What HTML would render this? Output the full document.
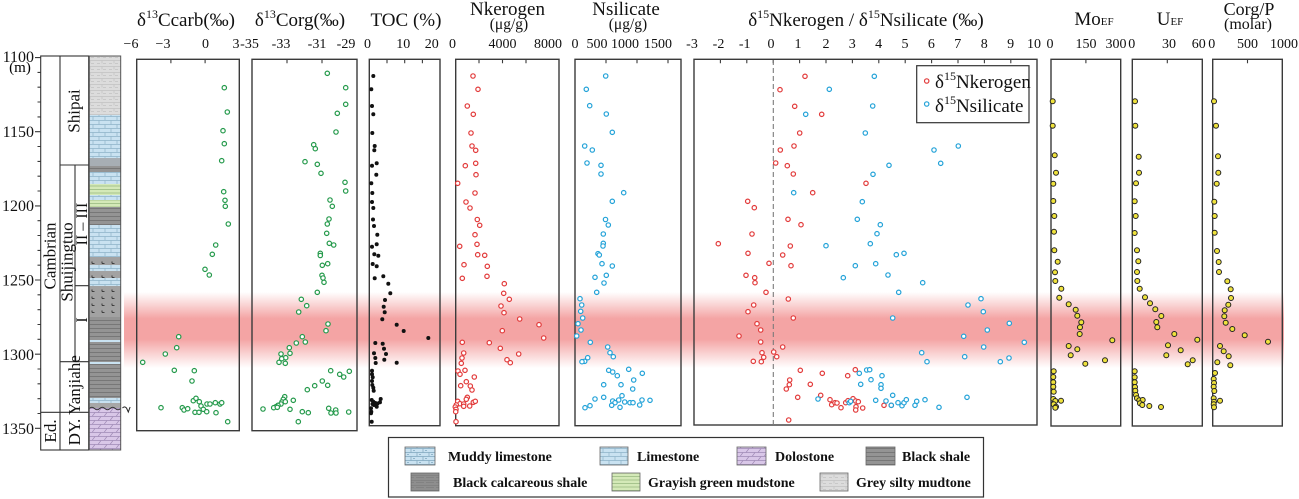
<!DOCTYPE html>
<html><head><meta charset="utf-8">
<style>
html,body{margin:0;padding:0;background:#fff;}
svg{display:block;font-family:"Liberation Serif","DejaVu Serif",serif;}
.fr{fill:none;stroke:#3a3a3a;stroke-width:1.4;}
.tk{stroke:#3a3a3a;stroke-width:1.1;}
.tl{font-size:14px;text-anchor:middle;fill:#111;}
.g{fill:#fff;stroke:#23994a;stroke-width:1.2;}
.r{fill:#fff;stroke:#e23a3a;stroke-width:1.2;}
.b{fill:#fff;stroke:#22a2d8;stroke-width:1.2;}
.k{fill:#111;}
.y{fill:#efe23c;stroke:#222;stroke-width:1;}
.lg{font-size:14px;font-weight:bold;fill:#111;}
.sw{stroke:#666;stroke-width:0.8;}
</style></head>
<body>
<svg width="1299" height="499" viewBox="0 0 1299 499" xmlns="http://www.w3.org/2000/svg">
<defs>
<linearGradient id="band" x1="0" y1="0" x2="0" y2="1">
<stop offset="0" stop-color="#f4a6a6" stop-opacity="0"/>
<stop offset="0.35" stop-color="#f4a4a4" stop-opacity="1"/>
<stop offset="0.62" stop-color="#f4a4a4" stop-opacity="1"/>
<stop offset="1" stop-color="#f4a6a6" stop-opacity="0"/>
</linearGradient>
<pattern id="pLime" patternUnits="userSpaceOnUse" width="12" height="8">
<rect width="12" height="8" fill="#c9e2f1"/>
<path d="M0 0.5H12M0 4.5H12M3 0.5V4.5M9 4.5V8" stroke="#8db2c8" stroke-width="0.7" fill="none"/>
</pattern>
<pattern id="pMud" patternUnits="userSpaceOnUse" width="12" height="8">
<rect width="12" height="8" fill="#c9e2f1"/>
<path d="M0 0.5H12M0 4.5H12M3 0.5V4.5M9 4.5V8M5 2.5H7M11 6.5H12M0 6.5H1" stroke="#7fa6bd" stroke-width="0.7" fill="none"/>
</pattern>
<pattern id="pShale" patternUnits="userSpaceOnUse" width="10" height="4">
<rect width="10" height="4" fill="#949494"/>
<path d="M0 0.5H10" stroke="#707070" stroke-width="0.8"/>
</pattern>
<pattern id="pCalc" patternUnits="userSpaceOnUse" width="10" height="7">
<rect width="10" height="7" fill="#a2a2a2"/>
<path d="M2 4.5h2.5M2 4.5v-2" stroke="#222" stroke-width="0.8" fill="none"/>
</pattern>
<pattern id="pCalcL" patternUnits="userSpaceOnUse" width="10" height="5">
<rect width="10" height="5" fill="#8e8e8e"/>
<path d="M0 0.5H10M0 2.5H4M6 2.5H10" stroke="#777" stroke-width="0.6"/>
</pattern>
<pattern id="pGreen" patternUnits="userSpaceOnUse" width="10" height="3.5">
<rect width="10" height="3.5" fill="#d4e9b8"/>
<path d="M0 0.5H10" stroke="#93b57a" stroke-width="0.7"/>
</pattern>
<pattern id="pSilt" patternUnits="userSpaceOnUse" width="12" height="6">
<rect width="12" height="6" fill="#dcdcdc"/>
<path d="M0 0.5H12M1 3.5H4M7 3.5H10M6 0.5V3.5" stroke="#c2c2c2" stroke-width="0.7" fill="none"/>
</pattern>
<pattern id="pDolo" patternUnits="userSpaceOnUse" width="12" height="8">
<rect width="12" height="8" fill="#d9c7e8"/>
<path d="M0 0.5H12M0 4.5H12M2 4.5L5 0.5M8 8.5L11 4.5" stroke="#9f8ab6" stroke-width="0.7" fill="none"/>
</pattern>
</defs>

<!-- red band -->
<rect x="124" y="292" width="1160" height="76" fill="url(#band)"/>

<!-- ===== depth axis & strat column ===== -->
<g font-size="16" text-anchor="end" fill="#111">
<text x="34" y="62">1100</text>
<text x="34" y="137">1150</text>
<text x="34" y="211">1200</text>
<text x="34" y="285.5">1250</text>
<text x="34" y="360">1300</text>
<text x="34" y="434">1350</text>
</g>
<text x="20" y="72" font-size="15" text-anchor="middle">(m)</text>
<g class="tk">
<path d="M35 57.6H40.7M37.5 72.4H40.7M37.5 87.2H40.7M37.5 102H40.7M37.5 116.9H40.7M35 131.7H40.7M37.5 146.5H40.7M37.5 161.4H40.7M37.5 176.2H40.7M37.5 191H40.7M35 205.9H40.7M37.5 220.7H40.7M37.5 235.5H40.7M37.5 250.4H40.7M37.5 265.2H40.7M35 280H40.7M37.5 294.8H40.7M37.5 309.7H40.7M37.5 324.5H40.7M37.5 339.3H40.7M35 354.2H40.7M37.5 369H40.7M37.5 383.8H40.7M37.5 398.7H40.7M37.5 413.5H40.7M35 428.3H40.7"/>
</g>
<!-- column boxes -->
<g fill="none" stroke="#333" stroke-width="1.1">
<rect x="40.7" y="56" width="48" height="394"/>
<path d="M60 56V450M75 165V361.7M60 165H88.7M75 285.7H88.7M60 361.7H88.7M40.7 412.3H88.7"/>
</g>
<g font-size="17" text-anchor="middle" fill="#111">
<text transform="translate(50,256) rotate(-90)" dominant-baseline="central">Cambrian</text>
<text transform="translate(50.5,431) rotate(-90)" dominant-baseline="central">Ed.</text>
<text transform="translate(74,111) rotate(-90)" dominant-baseline="central">Shipai</text>
<text transform="translate(67,262) rotate(-90)" dominant-baseline="central">Shuijingtuo</text>
<text transform="translate(82.5,224) rotate(-90)" dominant-baseline="central" font-size="16">II – III</text>
<text transform="translate(82.5,320) rotate(-90)" dominant-baseline="central" font-size="16">I</text>
<text transform="translate(74.5,385) rotate(-90)" dominant-baseline="central">Yanjiahe</text>
<text transform="translate(74.5,432) rotate(-90)" dominant-baseline="central">DY.</text>
</g>
<!-- lithology -->
<g>
<rect x="89.3" y="56" width="31.4" height="59" fill="url(#pSilt)"/>
<rect x="89.3" y="115" width="31.4" height="43" fill="url(#pLime)"/>
<rect x="89.3" y="158" width="31.4" height="8" fill="#a7aeb4"/>
<rect x="89.3" y="166" width="31.4" height="6" fill="url(#pShale)"/>
<rect x="89.3" y="172" width="31.4" height="12" fill="url(#pLime)"/>
<rect x="89.3" y="184" width="31.4" height="11" fill="url(#pGreen)"/>
<rect x="89.3" y="195" width="31.4" height="5" fill="url(#pLime)"/>
<rect x="89.3" y="200" width="31.4" height="7" fill="url(#pGreen)"/>
<rect x="89.3" y="207" width="31.4" height="18" fill="url(#pShale)"/>
<rect x="89.3" y="225" width="31.4" height="32" fill="url(#pLime)"/>
<rect x="89.3" y="257" width="31.4" height="8" fill="url(#pCalc)"/>
<rect x="89.3" y="265" width="31.4" height="6" fill="url(#pLime)"/>
<rect x="89.3" y="271" width="31.4" height="7" fill="url(#pCalc)"/>
<rect x="89.3" y="278" width="31.4" height="8" fill="url(#pLime)"/>
<rect x="89.3" y="286" width="31.4" height="31" fill="url(#pCalc)"/>
<rect x="89.3" y="317" width="31.4" height="23" fill="url(#pShale)"/>
<rect x="89.3" y="340" width="31.4" height="2" fill="#c9e2f1"/>
<rect x="89.3" y="342" width="31.4" height="20" fill="url(#pShale)"/>
<rect x="89.3" y="362" width="31.4" height="2" fill="#c9e2f1"/>
<rect x="89.3" y="364" width="31.4" height="34" fill="url(#pShale)"/>
<rect x="89.3" y="398" width="31.4" height="5" fill="url(#pLime)"/>
<rect x="89.3" y="403" width="31.4" height="5" fill="#a7a7a7"/>
<rect x="89.3" y="408" width="31.4" height="42" fill="url(#pDolo)"/>
<path d="M89.3 408.5q2.6-2.5 5.2 0t5.2 0t5.2 0t5.2 0t5.2 0t5.4 0" fill="none" stroke="#333" stroke-width="0.9"/>
<rect x="89.3" y="56" width="31.4" height="394" fill="none" stroke="#555" stroke-width="1"/>
<path d="M122.5 408q2-2.2 4 0M126.5 408l1.8 4l1.8-5" fill="none" stroke="#222" stroke-width="1"/>
</g>

<!-- ===== titles ===== -->
<g fill="#111">
<text x="186" y="26" font-size="19" text-anchor="middle">δ<tspan font-size="12" dy="-8">13</tspan><tspan dy="8">Ccarb(‰)</tspan></text>
<text x="300" y="26" font-size="19" text-anchor="middle">δ<tspan font-size="12" dy="-8">13</tspan><tspan dy="8">Corg(‰)</tspan></text>
<text x="406" y="26" font-size="19" text-anchor="middle">TOC (%)</text>
<text x="507.5" y="15" font-size="19" text-anchor="middle">Nkerogen</text>
<text x="509" y="29" font-size="15.5" text-anchor="middle">(μg/g)</text>
<text x="626" y="15" font-size="19" text-anchor="middle">Nsilicate</text>
<text x="628" y="29" font-size="15.5" text-anchor="middle">(μg/g)</text>
<text x="866" y="26" font-size="19" text-anchor="middle">δ<tspan font-size="12" dy="-8">15</tspan><tspan dy="8">Nkerogen / δ</tspan><tspan font-size="12" dy="-8">15</tspan><tspan dy="8">Nsilicate (‰)</tspan></text>
<text x="1094" y="25" font-size="19" text-anchor="middle">Mo<tspan font-size="11">EF</tspan></text>
<text x="1170" y="25" font-size="19" text-anchor="middle">U<tspan font-size="11">EF</tspan></text>
<text x="1249" y="15" font-size="18" text-anchor="middle">Corg/P</text>
<text x="1248" y="29" font-size="16" text-anchor="middle">(molar)</text>
</g>

<!-- ===== tick labels ===== -->
<g class="tl">
<text x="131" y="48">−6</text><text x="163" y="48">−3</text><text x="205.5" y="48">0</text><text x="236" y="48">3</text>
<text x="249.5" y="48">-35</text><text x="281" y="48">-33</text><text x="317" y="48">-31</text><text x="346" y="48">-29</text>
<text x="367.5" y="48">0</text><text x="403.3" y="48">10</text><text x="431.7" y="48">20</text>
<text x="452.5" y="48">0</text><text x="502.5" y="48">4000</text><text x="548" y="48">8000</text>
<text x="575" y="48">0</text><text x="597" y="48">500</text><text x="625" y="48">1000</text><text x="658" y="48">1500</text>
<text x="692" y="48">-3</text><text x="718.5" y="48">-2</text><text x="744.7" y="48">-1</text><text x="771" y="48">0</text>
<text x="798" y="48">1</text><text x="826" y="48">2</text><text x="852.2" y="48">3</text><text x="878.6" y="48">4</text>
<text x="905" y="48">5</text><text x="931.4" y="48">6</text><text x="957.8" y="48">7</text><text x="984.2" y="48">8</text>
<text x="1010.6" y="48">9</text><text x="1034" y="48">10</text>
<text x="1050" y="48">0</text><text x="1086" y="48">150</text><text x="1116" y="48">300</text>
<text x="1131.7" y="48">0</text><text x="1169" y="48">30</text><text x="1198.8" y="48">60</text>
<text x="1211.7" y="48">0</text><text x="1247.5" y="48">500</text><text x="1284" y="48">1000</text>
</g>

<!-- ===== panel frames ===== -->
<g class="fr">
<rect x="136.7" y="59.3" width="102.6" height="371.4"/>
<rect x="252" y="59.3" width="105" height="371.4"/>
<rect x="369.3" y="59.3" width="70.7" height="366.4"/>
<rect x="455.7" y="59.3" width="103.3" height="366.4"/>
<rect x="575" y="59.3" width="106" height="366.4"/>
<rect x="694" y="59.3" width="343" height="365.7"/>
<rect x="1051" y="59.3" width="69.7" height="366.7"/>
<rect x="1132.3" y="59.3" width="70" height="366.7"/>
<rect x="1212.7" y="59.3" width="69.6" height="366.7"/>
</g>
<g class="tk">
<path d="M170.9 59.3v4M205.1 59.3v4M287 59.3v4M322 59.3v4M387 59.3v4M404.7 59.3v4M422.4 59.3v4M479 59.3v4M502.5 59.3v4M526 59.3v4M606 59.3v4M637 59.3v4M668 59.3v4
M720.4 59.3v4M746.8 59.3v4M773.2 59.3v4M799.6 59.3v4M826 59.3v4M852.4 59.3v4M878.8 59.3v4M905.2 59.3v4M931.6 59.3v4M958 59.3v4M984.4 59.3v4M1010.8 59.3v4
M1085.9 59.3v4M1167.3 59.3v4M1247.5 59.3v4"/>
</g>
<path d="M773.3 60V425" stroke="#7a7a7a" stroke-width="1.1" stroke-dasharray="5,3"/>

<!-- ===== δ13Ccarb ===== -->
<g class="g">
<circle cx="224.3" cy="87.7" r="2.2"/><circle cx="227.3" cy="112" r="2.2"/><circle cx="223" cy="130.7" r="2.2"/><circle cx="224.3" cy="143.7" r="2.2"/><circle cx="221.7" cy="160.7" r="2.2"/><circle cx="223.7" cy="191.7" r="2.2"/><circle cx="225" cy="200.3" r="2.2"/><circle cx="225.3" cy="206.3" r="2.2"/><circle cx="228.3" cy="224" r="2.2"/><circle cx="215.7" cy="245" r="2.2"/><circle cx="212.3" cy="254.3" r="2.2"/><circle cx="205" cy="269.3" r="2.2"/><circle cx="209.3" cy="275" r="2.2"/><circle cx="178.7" cy="336.7" r="2.2"/><circle cx="176.7" cy="347.7" r="2.2"/><circle cx="165.3" cy="354" r="2.2"/><circle cx="142.7" cy="362.3" r="2.2"/><circle cx="174.3" cy="370.3" r="2.2"/><circle cx="194.3" cy="370.7" r="2.2"/><circle cx="192" cy="381" r="2.2"/><circle cx="161" cy="407.7" r="2.2"/><circle cx="182.3" cy="407.7" r="2.2"/><circle cx="184" cy="410" r="2.2"/><circle cx="187.7" cy="408.7" r="2.2"/><circle cx="193.3" cy="400.7" r="2.2"/><circle cx="196" cy="398.3" r="2.2"/><circle cx="199.3" cy="401.7" r="2.2"/><circle cx="201" cy="406" r="2.2"/><circle cx="203.3" cy="409.3" r="2.2"/><circle cx="195" cy="412.3" r="2.2"/><circle cx="199" cy="412.3" r="2.2"/><circle cx="207" cy="404" r="2.2"/><circle cx="210" cy="404" r="2.2"/><circle cx="206.7" cy="411.7" r="2.2"/><circle cx="215.3" cy="402.7" r="2.2"/><circle cx="220" cy="404" r="2.2"/><circle cx="221.7" cy="402.7" r="2.2"/><circle cx="216" cy="412.7" r="2.2"/><circle cx="227.7" cy="421.7" r="2.2"/>
</g>
<!-- ===== δ13Corg ===== -->
<g class="g">
<circle cx="327.3" cy="73.3" r="2.2"/><circle cx="345.7" cy="87.7" r="2.2"/><circle cx="345.7" cy="104.3" r="2.2"/><circle cx="337.3" cy="113.3" r="2.2"/><circle cx="336" cy="132" r="2.2"/><circle cx="313.7" cy="144.7" r="2.2"/><circle cx="315.3" cy="148.7" r="2.2"/><circle cx="305" cy="161.7" r="2.2"/><circle cx="317.3" cy="164.3" r="2.2"/><circle cx="321" cy="173.3" r="2.2"/><circle cx="345" cy="182.3" r="2.2"/><circle cx="345.7" cy="191" r="2.2"/><circle cx="330" cy="200" r="2.2"/><circle cx="332.3" cy="206.3" r="2.2"/><circle cx="329" cy="219" r="2.2"/><circle cx="327.3" cy="224" r="2.2"/><circle cx="326.7" cy="233.3" r="2.2"/><circle cx="329.3" cy="243.3" r="2.2"/><circle cx="333.7" cy="245" r="2.2"/><circle cx="320.3" cy="253.3" r="2.2"/><circle cx="320.3" cy="255.5" r="2.2"/><circle cx="322.3" cy="265.3" r="2.2"/><circle cx="327.7" cy="263.7" r="2.2"/><circle cx="322" cy="275.3" r="2.2"/><circle cx="323" cy="278" r="2.2"/><circle cx="324" cy="282.3" r="2.2"/><circle cx="317.3" cy="292.3" r="2.2"/><circle cx="301.3" cy="299.3" r="2.2"/><circle cx="306.7" cy="305.7" r="2.2"/><circle cx="298.7" cy="312" r="2.2"/><circle cx="328" cy="324" r="2.2"/><circle cx="326" cy="330.7" r="2.2"/><circle cx="302.3" cy="336.7" r="2.2"/><circle cx="305.3" cy="342" r="2.2"/><circle cx="296.3" cy="343" r="2.2"/><circle cx="289.3" cy="347.7" r="2.2"/><circle cx="290" cy="353.3" r="2.2"/><circle cx="281" cy="354" r="2.2"/><circle cx="285.7" cy="357.7" r="2.2"/><circle cx="281.7" cy="358.7" r="2.2"/><circle cx="279" cy="362.3" r="2.2"/><circle cx="285.3" cy="363.3" r="2.2"/><circle cx="330.7" cy="370.7" r="2.2"/><circle cx="339.7" cy="374.3" r="2.2"/><circle cx="343.7" cy="377" r="2.2"/><circle cx="349.3" cy="371.3" r="2.2"/><circle cx="322.3" cy="381" r="2.2"/><circle cx="327.7" cy="385.3" r="2.2"/><circle cx="314.7" cy="385.7" r="2.2"/><circle cx="307.3" cy="389.7" r="2.2"/><circle cx="293.3" cy="400.3" r="2.2"/><circle cx="284.7" cy="396.7" r="2.2"/><circle cx="283.3" cy="399.3" r="2.2"/><circle cx="282" cy="402" r="2.2"/><circle cx="285.3" cy="401.7" r="2.2"/><circle cx="281" cy="404" r="2.2"/><circle cx="278" cy="405.3" r="2.2"/><circle cx="276" cy="406.7" r="2.2"/><circle cx="273.7" cy="407.7" r="2.2"/><circle cx="277.3" cy="407.3" r="2.2"/><circle cx="263" cy="409" r="2.2"/><circle cx="290" cy="409.3" r="2.2"/><circle cx="302.3" cy="411.7" r="2.2"/><circle cx="308.3" cy="412.7" r="2.2"/><circle cx="328.7" cy="408.3" r="2.2"/><circle cx="335.7" cy="410" r="2.2"/><circle cx="331" cy="413" r="2.2"/><circle cx="336" cy="413" r="2.2"/><circle cx="348.7" cy="412" r="2.2"/><circle cx="298.3" cy="421.7" r="2.2"/>
</g>
<!-- ===== TOC ===== -->
<g class="k">
<circle cx="373.3" cy="76" r="2"/><circle cx="371.3" cy="89.3" r="2"/><circle cx="372" cy="106" r="2"/><circle cx="373.3" cy="114.3" r="2"/><circle cx="372.3" cy="133" r="2"/><circle cx="374.7" cy="146" r="2"/><circle cx="374.3" cy="150.3" r="2"/><circle cx="376.7" cy="163.3" r="2"/><circle cx="372" cy="165.7" r="2"/><circle cx="376.3" cy="174.7" r="2"/><circle cx="371.3" cy="183.3" r="2"/><circle cx="372.3" cy="193" r="2"/><circle cx="372" cy="202" r="2"/><circle cx="373.3" cy="208" r="2"/><circle cx="373" cy="219.5" r="2"/><circle cx="374" cy="226" r="2"/><circle cx="377.3" cy="234.7" r="2"/><circle cx="372" cy="246.7" r="2"/><circle cx="376.7" cy="244.3" r="2"/><circle cx="374.3" cy="254.3" r="2"/><circle cx="378.3" cy="255.7" r="2"/><circle cx="372.7" cy="264" r="2"/><circle cx="376.7" cy="266.3" r="2"/><circle cx="374.7" cy="278.3" r="2"/><circle cx="383.3" cy="276.3" r="2"/><circle cx="388.3" cy="283.7" r="2"/><circle cx="390.3" cy="293.3" r="2"/><circle cx="385" cy="300" r="2"/><circle cx="383.7" cy="306.7" r="2"/><circle cx="384.7" cy="312.3" r="2"/><circle cx="382.3" cy="319.3" r="2"/><circle cx="396.7" cy="324.7" r="2"/><circle cx="403.7" cy="331" r="2"/><circle cx="428.3" cy="338" r="2"/><circle cx="375.3" cy="343" r="2"/><circle cx="382.7" cy="343.7" r="2"/><circle cx="384" cy="348.7" r="2"/><circle cx="386" cy="354" r="2"/><circle cx="374" cy="353.3" r="2"/><circle cx="375.3" cy="358" r="2"/><circle cx="384.3" cy="359.7" r="2"/><circle cx="375.7" cy="363" r="2"/><circle cx="396.7" cy="362.7" r="2"/><circle cx="372" cy="370.7" r="2"/><circle cx="372" cy="374.3" r="2"/><circle cx="372.7" cy="377.3" r="2"/><circle cx="372" cy="381" r="2"/><circle cx="372.3" cy="385" r="2"/><circle cx="373.3" cy="387.7" r="2"/><circle cx="373.7" cy="390.7" r="2"/><circle cx="371.7" cy="400" r="2"/><circle cx="373.3" cy="401.7" r="2"/><circle cx="375.3" cy="403" r="2"/><circle cx="380.7" cy="399" r="2"/><circle cx="380" cy="402.3" r="2"/><circle cx="374" cy="405" r="2"/><circle cx="376.7" cy="406.7" r="2"/><circle cx="371" cy="408.3" r="2"/><circle cx="371.3" cy="411.7" r="2"/><circle cx="371" cy="413.3" r="2"/><circle cx="372.5" cy="404" r="2"/><circle cx="377.5" cy="403.5" r="2"/><circle cx="371.7" cy="421.7" r="2"/>
</g>
<!-- ===== Nkerogen ===== -->
<g class="r">
<circle cx="473" cy="76" r="2.2"/><circle cx="478" cy="89.3" r="2.2"/><circle cx="467.3" cy="106" r="2.2"/><circle cx="473.3" cy="114.3" r="2.2"/><circle cx="471" cy="133" r="2.2"/><circle cx="472" cy="146" r="2.2"/><circle cx="475.7" cy="150.3" r="2.2"/><circle cx="465.3" cy="165.7" r="2.2"/><circle cx="475.7" cy="163.3" r="2.2"/><circle cx="476" cy="174.7" r="2.2"/><circle cx="457.7" cy="183.3" r="2.2"/><circle cx="475" cy="193" r="2.2"/><circle cx="466" cy="202" r="2.2"/><circle cx="470" cy="208" r="2.2"/><circle cx="477.3" cy="219.5" r="2.2"/><circle cx="479.7" cy="225.3" r="2.2"/><circle cx="475" cy="234.7" r="2.2"/><circle cx="459.7" cy="246.3" r="2.2"/><circle cx="477" cy="244.3" r="2.2"/><circle cx="477.7" cy="254.7" r="2.2"/><circle cx="484.7" cy="255.3" r="2.2"/><circle cx="464" cy="264.7" r="2.2"/><circle cx="487.3" cy="266.3" r="2.2"/><circle cx="462.3" cy="278.3" r="2.2"/><circle cx="487" cy="276.3" r="2.2"/><circle cx="504.3" cy="283.7" r="2.2"/><circle cx="503.7" cy="293.3" r="2.2"/><circle cx="509.3" cy="299.3" r="2.2"/><circle cx="501" cy="306" r="2.2"/><circle cx="504" cy="312.7" r="2.2"/><circle cx="519.7" cy="319" r="2.2"/><circle cx="539" cy="324.7" r="2.2"/><circle cx="502.3" cy="330.7" r="2.2"/><circle cx="543.7" cy="338" r="2.2"/><circle cx="462.3" cy="342.3" r="2.2"/><circle cx="489.3" cy="342.7" r="2.2"/><circle cx="500.3" cy="348.3" r="2.2"/><circle cx="463.7" cy="353" r="2.2"/><circle cx="462" cy="358" r="2.2"/><circle cx="461.3" cy="363.3" r="2.2"/><circle cx="518.7" cy="354" r="2.2"/><circle cx="507" cy="359.7" r="2.2"/><circle cx="510.3" cy="362.7" r="2.2"/><circle cx="458" cy="371" r="2.2"/><circle cx="460" cy="374.3" r="2.2"/><circle cx="465" cy="370.3" r="2.2"/><circle cx="474.3" cy="377" r="2.2"/><circle cx="466.3" cy="381.7" r="2.2"/><circle cx="470.3" cy="386" r="2.2"/><circle cx="460.7" cy="385.7" r="2.2"/><circle cx="472" cy="390" r="2.2"/><circle cx="467.3" cy="397.3" r="2.2"/><circle cx="466.3" cy="399.3" r="2.2"/><circle cx="457.7" cy="401.3" r="2.2"/><circle cx="460" cy="403.7" r="2.2"/><circle cx="456.3" cy="405" r="2.2"/><circle cx="463.7" cy="404" r="2.2"/><circle cx="469.7" cy="406" r="2.2"/><circle cx="473.3" cy="402.3" r="2.2"/><circle cx="475.3" cy="401.3" r="2.2"/><circle cx="463.7" cy="406.3" r="2.2"/><circle cx="455.3" cy="407" r="2.2"/><circle cx="456" cy="409.3" r="2.2"/><circle cx="455.7" cy="411.7" r="2.2"/><circle cx="456" cy="421.7" r="2.2"/>
</g>
<!-- ===== Nsilicate ===== -->
<g class="b">
<circle cx="605.7" cy="76" r="2.2"/><circle cx="586.3" cy="89.3" r="2.2"/><circle cx="589.7" cy="105.7" r="2.2"/><circle cx="606.3" cy="114" r="2.2"/><circle cx="612.3" cy="132.3" r="2.2"/><circle cx="584.7" cy="146" r="2.2"/><circle cx="592.3" cy="150" r="2.2"/><circle cx="587" cy="163" r="2.2"/><circle cx="601" cy="165.3" r="2.2"/><circle cx="601" cy="174" r="2.2"/><circle cx="623.7" cy="192.7" r="2.2"/><circle cx="612.3" cy="201.3" r="2.2"/><circle cx="605.5" cy="219.5" r="2.2"/><circle cx="608.3" cy="225" r="2.2"/><circle cx="603.3" cy="234" r="2.2"/><circle cx="603.3" cy="243.3" r="2.2"/><circle cx="603" cy="246" r="2.2"/><circle cx="598" cy="253.7" r="2.2"/><circle cx="599.3" cy="255" r="2.2"/><circle cx="602" cy="263.7" r="2.2"/><circle cx="612.3" cy="266" r="2.2"/><circle cx="606.3" cy="275.3" r="2.2"/><circle cx="595" cy="277.3" r="2.2"/><circle cx="604" cy="283" r="2.2"/><circle cx="596.7" cy="292.3" r="2.2"/><circle cx="580" cy="298.7" r="2.2"/><circle cx="581.7" cy="305" r="2.2"/><circle cx="580.7" cy="311.3" r="2.2"/><circle cx="582.7" cy="318" r="2.2"/><circle cx="578" cy="323.7" r="2.2"/><circle cx="581" cy="330" r="2.2"/><circle cx="576.7" cy="336" r="2.2"/><circle cx="590.3" cy="342.3" r="2.2"/><circle cx="607.7" cy="347" r="2.2"/><circle cx="610" cy="352.7" r="2.2"/><circle cx="613.3" cy="356.7" r="2.2"/><circle cx="587.7" cy="357.7" r="2.2"/><circle cx="584.7" cy="361.3" r="2.2"/><circle cx="582" cy="361.7" r="2.2"/><circle cx="608.7" cy="370.3" r="2.2"/><circle cx="612.7" cy="372" r="2.2"/><circle cx="617.3" cy="375.7" r="2.2"/><circle cx="628.7" cy="369.3" r="2.2"/><circle cx="642.3" cy="373.3" r="2.2"/><circle cx="633.7" cy="380" r="2.2"/><circle cx="603.7" cy="384.7" r="2.2"/><circle cx="621" cy="384.7" r="2.2"/><circle cx="632.7" cy="389" r="2.2"/><circle cx="622" cy="395.7" r="2.2"/><circle cx="603.7" cy="397.3" r="2.2"/><circle cx="595" cy="399" r="2.2"/><circle cx="612.7" cy="401" r="2.2"/><circle cx="615" cy="402.7" r="2.2"/><circle cx="618.7" cy="400" r="2.2"/><circle cx="624.7" cy="402" r="2.2"/><circle cx="630" cy="402.7" r="2.2"/><circle cx="633" cy="402.7" r="2.2"/><circle cx="642" cy="400" r="2.2"/><circle cx="650" cy="400.3" r="2.2"/><circle cx="639.7" cy="405" r="2.2"/><circle cx="611.7" cy="405.3" r="2.2"/><circle cx="620" cy="407.3" r="2.2"/><circle cx="590" cy="405.7" r="2.2"/><circle cx="585" cy="407.7" r="2.2"/>
</g>
<!-- ===== δ15N kerogen ===== -->
<g class="r">
<circle cx="805" cy="76.3" r="2.2"/><circle cx="780" cy="89.7" r="2.2"/><circle cx="794.7" cy="106.3" r="2.2"/><circle cx="821.7" cy="114.3" r="2.2"/><circle cx="799.7" cy="133" r="2.2"/><circle cx="794" cy="146" r="2.2"/><circle cx="780.3" cy="150" r="2.2"/><circle cx="775.7" cy="163" r="2.2"/><circle cx="787.3" cy="165.7" r="2.2"/><circle cx="793.3" cy="174" r="2.2"/><circle cx="866" cy="183.3" r="2.2"/><circle cx="812.7" cy="192.7" r="2.2"/><circle cx="747.7" cy="201.3" r="2.2"/><circle cx="754.3" cy="207.7" r="2.2"/><circle cx="788" cy="219.3" r="2.2"/><circle cx="801" cy="224.7" r="2.2"/><circle cx="752" cy="234" r="2.2"/><circle cx="718.3" cy="243.7" r="2.2"/><circle cx="790.3" cy="246" r="2.2"/><circle cx="748" cy="253.3" r="2.2"/><circle cx="782.7" cy="255" r="2.2"/><circle cx="769" cy="263.3" r="2.2"/><circle cx="791" cy="265.7" r="2.2"/><circle cx="746" cy="275.3" r="2.2"/><circle cx="754.7" cy="277.7" r="2.2"/><circle cx="755" cy="282.7" r="2.2"/><circle cx="766" cy="292.3" r="2.2"/><circle cx="788.3" cy="299" r="2.2"/><circle cx="753.7" cy="305" r="2.2"/><circle cx="748" cy="311.7" r="2.2"/><circle cx="793.3" cy="318" r="2.2"/><circle cx="757" cy="323.7" r="2.2"/><circle cx="760.7" cy="330" r="2.2"/><circle cx="739" cy="336" r="2.2"/><circle cx="760.7" cy="342" r="2.2"/><circle cx="782.7" cy="347" r="2.2"/><circle cx="762" cy="352.7" r="2.2"/><circle cx="773.7" cy="352" r="2.2"/><circle cx="763.7" cy="357.3" r="2.2"/><circle cx="776.7" cy="356.7" r="2.2"/><circle cx="753.3" cy="361.3" r="2.2"/><circle cx="761.3" cy="361.7" r="2.2"/><circle cx="800.3" cy="370.3" r="2.2"/><circle cx="822.3" cy="373.3" r="2.2"/><circle cx="855.3" cy="369.7" r="2.2"/><circle cx="847.7" cy="375.7" r="2.2"/><circle cx="789.7" cy="380" r="2.2"/><circle cx="789.3" cy="384.7" r="2.2"/><circle cx="810.3" cy="384.3" r="2.2"/><circle cx="786.3" cy="389" r="2.2"/><circle cx="797.7" cy="397.3" r="2.2"/><circle cx="820.7" cy="395.3" r="2.2"/><circle cx="830" cy="399.7" r="2.2"/><circle cx="831.7" cy="404.7" r="2.2"/><circle cx="835" cy="402.7" r="2.2"/><circle cx="837" cy="403" r="2.2"/><circle cx="841" cy="407.7" r="2.2"/><circle cx="845.7" cy="402.7" r="2.2"/><circle cx="848" cy="400.7" r="2.2"/><circle cx="853" cy="398.7" r="2.2"/><circle cx="855.7" cy="401" r="2.2"/><circle cx="858.3" cy="401.7" r="2.2"/><circle cx="856" cy="406.7" r="2.2"/><circle cx="855.7" cy="410" r="2.2"/><circle cx="862.7" cy="408" r="2.2"/><circle cx="884" cy="405.3" r="2.2"/><circle cx="891.3" cy="405.3" r="2.2"/><circle cx="788.7" cy="420" r="2.2"/>
</g>
<!-- ===== δ15N silicate ===== -->
<g class="b">
<circle cx="874.3" cy="76.3" r="2.2"/><circle cx="829.3" cy="89.3" r="2.2"/><circle cx="872.7" cy="106" r="2.2"/><circle cx="805.7" cy="114.3" r="2.2"/><circle cx="865.3" cy="133" r="2.2"/><circle cx="958.3" cy="146" r="2.2"/><circle cx="934" cy="150" r="2.2"/><circle cx="940.7" cy="163.3" r="2.2"/><circle cx="889" cy="165.3" r="2.2"/><circle cx="873" cy="174.3" r="2.2"/><circle cx="793.7" cy="192.7" r="2.2"/><circle cx="862.3" cy="201.7" r="2.2"/><circle cx="857.3" cy="219.3" r="2.2"/><circle cx="880.3" cy="224.7" r="2.2"/><circle cx="877" cy="233.7" r="2.2"/><circle cx="826" cy="245.7" r="2.2"/><circle cx="870.3" cy="243.7" r="2.2"/><circle cx="896.3" cy="254.7" r="2.2"/><circle cx="904" cy="253.3" r="2.2"/><circle cx="855.3" cy="265.7" r="2.2"/><circle cx="875.7" cy="263.7" r="2.2"/><circle cx="843.3" cy="277.7" r="2.2"/><circle cx="888" cy="275" r="2.2"/><circle cx="922.7" cy="282.7" r="2.2"/><circle cx="898.7" cy="292.3" r="2.2"/><circle cx="981" cy="298.7" r="2.2"/><circle cx="968" cy="305" r="2.2"/><circle cx="983.3" cy="311.7" r="2.2"/><circle cx="892.7" cy="318" r="2.2"/><circle cx="1009.3" cy="323.3" r="2.2"/><circle cx="987.3" cy="330" r="2.2"/><circle cx="963.7" cy="336.3" r="2.2"/><circle cx="1024.3" cy="342.3" r="2.2"/><circle cx="983.7" cy="347" r="2.2"/><circle cx="964.7" cy="356.7" r="2.2"/><circle cx="921.7" cy="352.7" r="2.2"/><circle cx="927" cy="361.7" r="2.2"/><circle cx="1009" cy="358" r="2.2"/><circle cx="1000.3" cy="361.7" r="2.2"/><circle cx="866.7" cy="370" r="2.2"/><circle cx="869.7" cy="369.7" r="2.2"/><circle cx="859.3" cy="373.3" r="2.2"/><circle cx="882" cy="375.7" r="2.2"/><circle cx="871" cy="379.7" r="2.2"/><circle cx="860.7" cy="384.3" r="2.2"/><circle cx="881" cy="384.7" r="2.2"/><circle cx="881" cy="388.3" r="2.2"/><circle cx="892.7" cy="395.3" r="2.2"/><circle cx="875.7" cy="400.3" r="2.2"/><circle cx="886" cy="401" r="2.2"/><circle cx="891.3" cy="405.3" r="2.2"/><circle cx="898" cy="402.7" r="2.2"/><circle cx="902" cy="405.7" r="2.2"/><circle cx="904" cy="402.7" r="2.2"/><circle cx="906.3" cy="399.7" r="2.2"/><circle cx="915" cy="405.3" r="2.2"/><circle cx="916.7" cy="401.3" r="2.2"/><circle cx="925" cy="399.7" r="2.2"/><circle cx="939" cy="407.3" r="2.2"/><circle cx="967" cy="397.3" r="2.2"/><circle cx="818" cy="399" r="2.2"/><circle cx="849.3" cy="402.7" r="2.2"/><circle cx="850.7" cy="401.3" r="2.2"/>
</g>
<!-- δ15N legend -->
<rect x="916.7" y="65.7" width="112.3" height="57" fill="#fff" stroke="#333" stroke-width="1.2"/>
<circle cx="926.7" cy="81" r="2.2" class="r"/>
<circle cx="926.7" cy="104" r="2.2" class="b"/>
<text x="935" y="88" font-size="19" fill="#111">δ<tspan font-size="12" dy="-8">15</tspan><tspan dy="8">Nkerogen</tspan></text>
<text x="935" y="112" font-size="19" fill="#111">δ<tspan font-size="12" dy="-8">15</tspan><tspan dy="8">Nsilicate</tspan></text>

<!-- ===== MoEF ===== -->
<g class="y">
<circle cx="1052.7" cy="101.3" r="2.5"/><circle cx="1052.7" cy="125.7" r="2.5"/><circle cx="1054.7" cy="155.3" r="2.5"/><circle cx="1056" cy="172.7" r="2.5"/><circle cx="1053.3" cy="183.7" r="2.5"/><circle cx="1053.3" cy="201" r="2.5"/><circle cx="1054.3" cy="216" r="2.5"/><circle cx="1054" cy="231.7" r="2.5"/><circle cx="1054.3" cy="250.3" r="2.5"/><circle cx="1057.7" cy="261.7" r="2.5"/><circle cx="1055" cy="272.3" r="2.5"/><circle cx="1055.3" cy="281" r="2.5"/><circle cx="1061.3" cy="288.7" r="2.5"/><circle cx="1059.3" cy="297.7" r="2.5"/><circle cx="1068.7" cy="304.3" r="2.5"/><circle cx="1075.7" cy="309.7" r="2.5"/><circle cx="1077.3" cy="315.7" r="2.5"/><circle cx="1081.3" cy="322.3" r="2.5"/><circle cx="1080" cy="327.3" r="2.5"/><circle cx="1079.7" cy="334" r="2.5"/><circle cx="1112.3" cy="340.3" r="2.5"/><circle cx="1068.7" cy="346" r="2.5"/><circle cx="1077.3" cy="349.3" r="2.5"/><circle cx="1070.7" cy="355.3" r="2.5"/><circle cx="1105" cy="360.3" r="2.5"/><circle cx="1085.3" cy="363.7" r="2.5"/><circle cx="1053.7" cy="371.3" r="2.5"/><circle cx="1053.3" cy="377" r="2.5"/><circle cx="1053.3" cy="382.3" r="2.5"/><circle cx="1053.3" cy="386.7" r="2.5"/><circle cx="1053.7" cy="391.7" r="2.5"/><circle cx="1053.3" cy="399" r="2.5"/><circle cx="1055.3" cy="401" r="2.5"/><circle cx="1061" cy="400.7" r="2.5"/><circle cx="1053.7" cy="404.3" r="2.5"/><circle cx="1056" cy="406.7" r="2.5"/><circle cx="1055.3" cy="407.7" r="2.5"/>
</g>
<!-- ===== UEF ===== -->
<g class="y">
<circle cx="1135" cy="101.3" r="2.5"/><circle cx="1135.3" cy="125.7" r="2.5"/><circle cx="1138.7" cy="156.7" r="2.5"/><circle cx="1139" cy="172.7" r="2.5"/><circle cx="1136" cy="183.3" r="2.5"/><circle cx="1134.7" cy="201.3" r="2.5"/><circle cx="1135.7" cy="216" r="2.5"/><circle cx="1134.7" cy="233" r="2.5"/><circle cx="1137" cy="250.3" r="2.5"/><circle cx="1138.3" cy="261.3" r="2.5"/><circle cx="1137" cy="272" r="2.5"/><circle cx="1137.3" cy="281" r="2.5"/><circle cx="1139.7" cy="288.7" r="2.5"/><circle cx="1145" cy="297.3" r="2.5"/><circle cx="1150" cy="303.3" r="2.5"/><circle cx="1155.3" cy="309.3" r="2.5"/><circle cx="1161.3" cy="316" r="2.5"/><circle cx="1156.3" cy="322" r="2.5"/><circle cx="1157.3" cy="327.3" r="2.5"/><circle cx="1174.3" cy="334" r="2.5"/><circle cx="1197.3" cy="339.7" r="2.5"/><circle cx="1168" cy="345.3" r="2.5"/><circle cx="1180.7" cy="350.3" r="2.5"/><circle cx="1166.3" cy="355.3" r="2.5"/><circle cx="1192.7" cy="360.3" r="2.5"/><circle cx="1187.7" cy="364.3" r="2.5"/><circle cx="1134.7" cy="371.3" r="2.5"/><circle cx="1134.7" cy="377.3" r="2.5"/><circle cx="1134.7" cy="382.3" r="2.5"/><circle cx="1135" cy="387" r="2.5"/><circle cx="1135.3" cy="390.7" r="2.5"/><circle cx="1136" cy="395" r="2.5"/><circle cx="1137" cy="398.3" r="2.5"/><circle cx="1139.3" cy="400.3" r="2.5"/><circle cx="1142.7" cy="400" r="2.5"/><circle cx="1140" cy="403.3" r="2.5"/><circle cx="1142.3" cy="405" r="2.5"/><circle cx="1149.3" cy="406" r="2.5"/><circle cx="1161" cy="407" r="2.5"/>
</g>
<!-- ===== Corg/P ===== -->
<g class="y">
<circle cx="1214" cy="101.3" r="2.5"/><circle cx="1216" cy="125.7" r="2.5"/><circle cx="1218" cy="156.3" r="2.5"/><circle cx="1218.3" cy="172.7" r="2.5"/><circle cx="1216.7" cy="183.7" r="2.5"/><circle cx="1214.3" cy="201.7" r="2.5"/><circle cx="1214.7" cy="216" r="2.5"/><circle cx="1214.7" cy="232.7" r="2.5"/><circle cx="1217" cy="251" r="2.5"/><circle cx="1218.7" cy="262" r="2.5"/><circle cx="1219" cy="272" r="2.5"/><circle cx="1227.3" cy="281.3" r="2.5"/><circle cx="1230.7" cy="289.3" r="2.5"/><circle cx="1231" cy="298" r="2.5"/><circle cx="1228.3" cy="304.7" r="2.5"/><circle cx="1224.7" cy="310.3" r="2.5"/><circle cx="1224.3" cy="316.3" r="2.5"/><circle cx="1225.7" cy="322.7" r="2.5"/><circle cx="1232.3" cy="329" r="2.5"/><circle cx="1244.7" cy="335.3" r="2.5"/><circle cx="1268" cy="341.7" r="2.5"/><circle cx="1220" cy="346" r="2.5"/><circle cx="1223.7" cy="351.3" r="2.5"/><circle cx="1228.7" cy="356.3" r="2.5"/><circle cx="1217.3" cy="362.3" r="2.5"/><circle cx="1230.3" cy="365.3" r="2.5"/><circle cx="1215" cy="373" r="2.5"/><circle cx="1213.7" cy="379" r="2.5"/><circle cx="1214" cy="383" r="2.5"/><circle cx="1213.7" cy="386.7" r="2.5"/><circle cx="1214.3" cy="391" r="2.5"/><circle cx="1213.7" cy="398.3" r="2.5"/><circle cx="1214" cy="401.7" r="2.5"/><circle cx="1220" cy="400.7" r="2.5"/><circle cx="1213.7" cy="404.3" r="2.5"/><circle cx="1214" cy="407.3" r="2.5"/>
</g>

<!-- ===== bottom legend ===== -->
<rect x="388.5" y="437.5" width="595" height="59.5" fill="#fff" stroke="#333" stroke-width="1.2"/>
<rect x="405" y="447" width="30" height="18" fill="url(#pMud)" class="sw"/>
<text x="448" y="461" class="lg">Muddy  limestone</text>
<rect x="600" y="447" width="28" height="18" fill="url(#pLime)" class="sw"/>
<text x="637" y="461" class="lg">Limestone</text>
<rect x="737" y="447" width="29" height="18" fill="url(#pDolo)" class="sw"/>
<text x="775" y="461" class="lg">Dolostone</text>
<rect x="866" y="447" width="29" height="18" fill="url(#pShale)" class="sw"/>
<text x="902" y="461" class="lg">Black shale</text>
<rect x="411" y="473" width="28" height="18" fill="url(#pCalcL)" class="sw"/>
<text x="453" y="487" class="lg">Black calcareous shale</text>
<rect x="612" y="473" width="28" height="18" fill="url(#pGreen)" class="sw"/>
<text x="648" y="487" class="lg">Grayish green mudstone</text>
<rect x="820" y="473" width="28" height="18" fill="url(#pSilt)" class="sw"/>
<text x="856" y="487" class="lg">Grey silty mudtone</text>
</svg>
</body></html>
